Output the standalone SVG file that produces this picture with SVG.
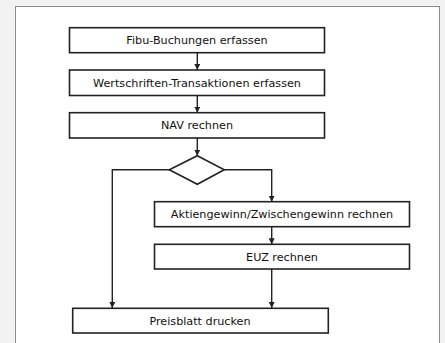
<svg xmlns="http://www.w3.org/2000/svg" width="445" height="343" viewBox="0 0 445 343">
<style>
.bg{fill:#f2f2f2}
.frame{fill:#ffffff;stroke:#8c8c8c;stroke-width:1}
.box{fill:#ffffff;stroke:#222222;stroke-width:1.6}
.lbl{font-family:"DejaVu Sans",Verdana,sans-serif;font-size:11.2px;fill:#111111;text-anchor:middle;dominant-baseline:central}
.con{fill:none;stroke:#222222;stroke-width:1.4}
</style>
<defs>
<marker id="ah" viewBox="0 0 10 10" refX="10" refY="5" markerWidth="6" markerHeight="6" markerUnits="userSpaceOnUse" orient="auto">
<path d="M0,0 L10,5 L0,10 z" fill="#222222"/>
</marker>
</defs>
<rect class="bg" x="0" y="0" width="445" height="343"/>
<rect class="frame" x="15.5" y="6.5" width="424" height="345"/>
<g id="connectors">
<line class="con" x1="197.3" y1="52.7" x2="197.3" y2="70" marker-end="url(#ah)"/>
<line class="con" x1="197.3" y1="95.7" x2="197.3" y2="112.7" marker-end="url(#ah)"/>
<line class="con" x1="197.3" y1="138" x2="197.3" y2="155.7" marker-end="url(#ah)"/>
<polyline class="con" points="169.3,169.8 112.3,169.8 112.3,308" marker-end="url(#ah)"/>
<polyline class="con" points="224.3,169.8 271.7,169.8 271.7,201.7" marker-end="url(#ah)"/>
<line class="con" x1="271.7" y1="226.7" x2="271.7" y2="244.3" marker-end="url(#ah)"/>
<line class="con" x1="271.7" y1="269" x2="271.7" y2="308" marker-end="url(#ah)"/>
</g>
<g id="n1"><rect class="box" x="69.5" y="27.7" width="255" height="25"/><text class="lbl" x="197" y="40.5">Fibu-Buchungen erfassen</text></g>
<g id="n2"><rect class="box" x="69.5" y="70" width="255" height="25.5"/><text class="lbl" x="197" y="83">Wertschriften-Transaktionen erfassen</text></g>
<g id="n3"><rect class="box" x="69.5" y="112.7" width="255" height="25.3"/><text class="lbl" x="197" y="125.5">NAV rechnen</text></g>
<g id="n4"><polygon class="box" points="197.3,155.7 224.3,169.8 197.3,184.3 169.3,169.8"/></g>
<g id="n5"><rect class="box" x="154.5" y="201.7" width="255" height="25"/><text class="lbl" x="282" y="214.5">Aktiengewinn/Zwischengewinn rechnen</text></g>
<g id="n6"><rect class="box" x="154.5" y="244.3" width="255" height="24.7"/><text class="lbl" x="282" y="257">EUZ rechnen</text></g>
<g id="n7"><rect class="box" x="72.7" y="308.3" width="255.6" height="24.7"/><text class="lbl" x="200" y="321">Preisblatt drucken</text></g>
</svg>
